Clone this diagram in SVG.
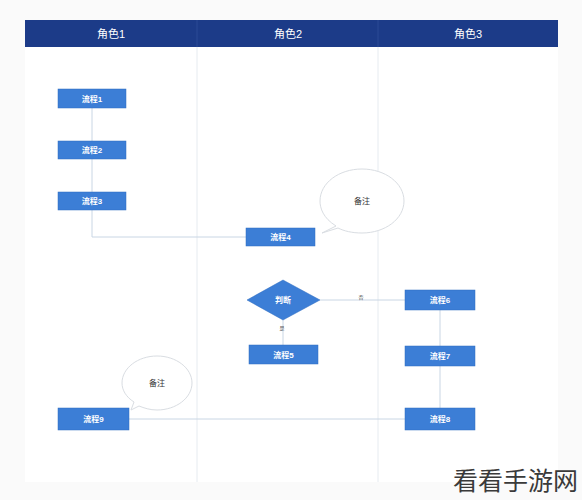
<svg xmlns="http://www.w3.org/2000/svg" width="582" height="500" viewBox="0 0 582 500">
<style>
.box{fill:#3c7ed6;stroke:#2f6cc0;stroke-width:0.5}
.bt{font-family:"Liberation Sans","Noto Sans CJK SC",sans-serif;font-size:8px;font-weight:bold;fill:#fff;text-anchor:middle}
.ht{font-family:"Liberation Sans","Noto Sans CJK SC",sans-serif;font-size:11px;fill:#fff;text-anchor:middle}
.nt{font-family:"Liberation Sans","Noto Sans CJK SC",sans-serif;font-size:8px;fill:#333;text-anchor:middle}
.lt{font-family:"Liberation Sans","Noto Sans CJK SC",sans-serif;font-size:5px;fill:#555;text-anchor:middle}
.c{fill:none;stroke:#c9d6e4;stroke-width:1}
.note{fill:#fff;stroke:#d9dde2;stroke-width:1}
.lane{stroke:#e6ebf0;stroke-width:1}
</style>
<rect width="582" height="500" fill="#fafafa"/>
<rect x="25" y="20" width="533" height="462" fill="#fff"/>
<g id="header">
<rect x="25" y="20" width="533" height="27" fill="#1c3b88"/>
<line x1="197" y1="20" x2="197" y2="47" stroke="#2a4a95" stroke-width="1"/>
<line x1="378" y1="20" x2="378" y2="47" stroke="#2a4a95" stroke-width="1"/>
<text class="ht" x="111" y="38">角色1</text>
<text class="ht" x="288" y="38">角色2</text>
<text class="ht" x="468" y="38">角色3</text>
</g>
<g id="lanes">
<line class="lane" x1="197" y1="47" x2="197" y2="482"/>
<line class="lane" x1="378" y1="47" x2="378" y2="482"/>
</g>
<g id="connectors">
<line class="c" x1="92" y1="108" x2="92" y2="141"/>
<line class="c" x1="92" y1="159" x2="92" y2="192"/>
<polyline class="c" points="92,210 92,237 246,237"/>
<line class="c" x1="320" y1="300" x2="405" y2="300"/>
<text class="lt" x="361" y="299">否</text>
<line class="c" x1="283" y1="320" x2="283" y2="345"/>
<text class="lt" x="282" y="330">是</text>
<line class="c" x1="440" y1="310" x2="440" y2="346"/>
<line class="c" x1="440" y1="366" x2="440" y2="408"/>
<line class="c" x1="405" y1="419" x2="129" y2="419"/>
</g>
<g id="n1"><rect class="box" x="58" y="89" width="68" height="19"/><text class="bt" x="92" y="101.5">流程1</text></g>
<g id="n2"><rect class="box" x="58" y="141" width="68" height="18"/><text class="bt" x="92" y="153">流程2</text></g>
<g id="n3"><rect class="box" x="58" y="192" width="68" height="18"/><text class="bt" x="92" y="204">流程3</text></g>
<g id="n4"><rect class="box" x="246" y="228" width="69" height="18"/><text class="bt" x="280.5" y="240">流程4</text></g>
<g id="note1"><path class="note" d="M336,226 C323,218 320,208 320,201 C320,183 339,169 362,169 C385,169 404,183 404,201 C404,219 385,233 362,233 C352,233 344,231 338,228 L322,233 Z"/><text class="nt" x="362" y="204">备注</text></g>
<g id="d"><polygon class="box" points="247,300 283,280 320,300 283,320"/><text class="bt" x="283" y="303">判断</text></g>
<g id="n5"><rect class="box" x="249" y="345" width="69" height="19"/><text class="bt" x="283.5" y="357.5">流程5</text></g>
<g id="n6"><rect class="box" x="405" y="290" width="70" height="20"/><text class="bt" x="440" y="303">流程6</text></g>
<g id="n7"><rect class="box" x="405" y="346" width="70" height="20"/><text class="bt" x="440" y="359">流程7</text></g>
<g id="n8"><rect class="box" x="405" y="408" width="70" height="22"/><text class="bt" x="440" y="422">流程8</text></g>
<g id="n9"><rect class="box" x="58" y="408" width="71" height="22"/><text class="bt" x="93.5" y="422">流程9</text></g>
<g id="note2"><path class="note" d="M134,402 C126,397 122,390 122,383 C122,368 138,356 157,356 C176,356 192,368 192,383 C192,398 176,410 157,410 C150,410 144,408 139,406 L131,410 Z"/><text class="nt" x="157" y="386">备注</text></g>
<text x="578" y="490" font-family="'Noto Sans CJK SC',sans-serif" font-size="25" fill="#3a3a3a" text-anchor="end">看看手游网</text>
</svg>
